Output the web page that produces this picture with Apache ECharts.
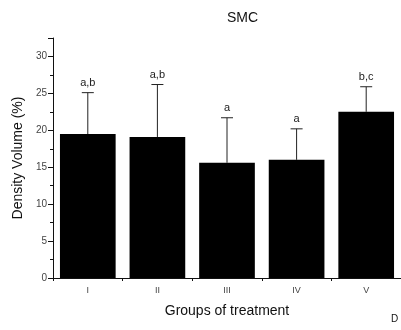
<!DOCTYPE html>
<html>
<head>
<meta charset="utf-8">
<script src="https://cdn.jsdelivr.net/npm/echarts@6/dist/echarts.min.js"></script>
<style>
  html, body { margin: 0; padding: 0; background: #fff; }
  #chart { width: 401px; height: 330px; }
</style>
</head>
<body>
<div id="chart"></div>
<script>
// groups and values
const groups = ['I', 'II', 'III', 'IV', 'V'];
const meanValues = [19.5, 19.1, 15.6, 16.0, 22.5];
const errorValues = [5.6, 7.1, 6.1, 4.2, 3.4];
const sigLabels = ['a,b', 'a,b', 'a', 'a', 'b,c'];

const font = 'Liberation Sans, Arial, sans-serif';

const errorData = groups.map(function (g, i) {
  return [i, meanValues[i], meanValues[i] + errorValues[i], sigLabels[i]];
});

function renderError(params, api) {
  const x = api.value(0);
  const base = api.coord([x, api.value(1)]);
  const top = api.coord([x, api.value(2)]);
  const cap = 6;
  const style = { stroke: '#222', lineWidth: 1 };
  return {
    type: 'group',
    children: [
      { type: 'line', shape: { x1: base[0], y1: base[1], x2: top[0], y2: top[1] }, style: style },
      { type: 'line', shape: { x1: top[0] - cap, y1: top[1], x2: top[0] + cap, y2: top[1] }, style: style },
      {
        type: 'text',
        style: {
          text: api.value(3), x: top[0], y: top[1] - 4,
          align: 'center', verticalAlign: 'bottom',
          font: '11px ' + font, fill: '#222'
        }
      }
    ]
  };
}

const chart = echarts.init(document.getElementById('chart'));
chart.setOption({
  animation: false,
  title: {
    text: 'SMC',
    left: 222,
    top: 6,
    textStyle: { fontFamily: font, fontSize: 14, fontWeight: 'normal', color: '#111' }
  },
  grid: { left: 53, right: -2, top: 38, bottom: 52 },
  xAxis: {
    type: 'category',
    data: groups,
    name: 'Groups of treatment',
    nameLocation: 'middle',
    nameGap: 26,
    nameTextStyle: { fontFamily: font, fontSize: 14, color: '#111' },
    axisLine: { lineStyle: { color: '#111', width: 1 } },
    axisTick: { show: true, length: 3, lineStyle: { color: '#111' } },
    axisLabel: { fontFamily: font, fontSize: 9, color: '#444', margin: 8 }
  },
  yAxis: {
    type: 'value',
    min: 0,
    max: 32.5,
    interval: 5,
    name: 'Density Volume (%)',
    nameLocation: 'middle',
    nameGap: 28,
    nameTextStyle: { fontFamily: font, fontSize: 14, color: '#111', padding: [0, 0, 0, 0] },
    axisLine: { show: true, lineStyle: { color: '#111', width: 1 } },
    axisTick: { show: true, length: 5, lineStyle: { color: '#111' } },
    minorTick: { show: true, splitNumber: 2, length: 3, lineStyle: { color: '#111' } },
    splitLine: { show: false },
    axisLabel: { fontFamily: font, fontSize: 10, color: '#444', margin: 6, showMaxLabel: false }
  },
  graphic: [
    { type: 'text', left: 391, top: 314, style: { text: 'D', font: '10px ' + font, fill: '#111' } }
  ],
  series: [
    {
      type: 'bar',
      data: meanValues,
      barWidth: '80%',
      itemStyle: { color: '#000' }
    },
    {
      type: 'custom',
      data: errorData,
      renderItem: renderError,
      z: 3
    }
  ]
});
</script>
</body>
</html>
